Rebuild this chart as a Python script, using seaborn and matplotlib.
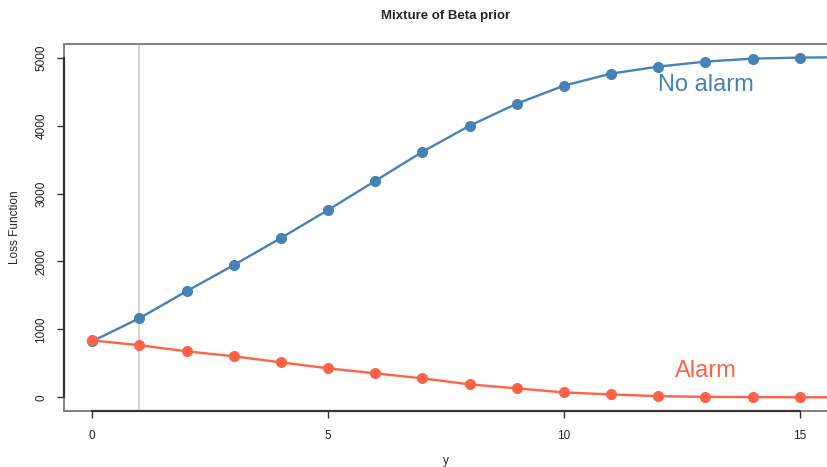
import numpy as np
import pandas as pd
import matplotlib
matplotlib.use("Agg")
import matplotlib.pyplot as plt
import matplotlib.transforms as mtransforms
import seaborn as sns

# Expected loss for each decision as a function of observed count y
y_vals = list(range(0, 17))
loss_no_alarm = [826, 1165, 1563, 1947, 2345, 2758, 3186, 3614, 3997, 4322,
                 4587, 4764, 4867, 4941, 4985, 5000, 5005]
loss_alarm = [840, 767, 678, 605, 516, 428, 354, 280, 192, 133,
              74, 44, 18, 8, 4, 2, 1]
threshold_y = 1

x_ticks = [0, 5, 10, 15]
y_ticks = [0, 1000, 2000, 3000, 4000, 5000]

blue = "#4682B4"
red = "#FF6347"

df = pd.DataFrame({
    "y": y_vals * 2,
    "loss": loss_no_alarm + loss_alarm,
    "decision": ["No alarm"] * len(y_vals) + ["Alarm"] * len(y_vals),
})

sns.set_style("white")
plt.rcParams["font.family"] = ["Liberation Sans", "DejaVu Sans"]

fig = plt.figure(figsize=(8.27, 4.67), dpi=100)
W, H = 827, 467
left_px, right_px, top_px, bottom_px = 64, 828, 44, 411
ax = fig.add_axes([left_px / W, 1 - bottom_px / H,
                   (right_px - left_px) / W, (bottom_px - top_px) / H])

ax.axvline(threshold_y, color="#cccccc", lw=1.2, zorder=1)

sns.lineplot(data=df, x="y", y="loss", hue="decision",
             palette={"No alarm": blue, "Alarm": red},
             hue_order=["No alarm", "Alarm"],
             marker="o", markersize=8, markeredgewidth=0,
             linewidth=1.7, legend=False, ax=ax, zorder=3)

ax.set_xlim(-0.6, 15.6)
ax.set_ylim(-200, 5200)
ax.set_xticks(x_ticks)
ax.set_yticks(y_ticks)
ax.set_xticklabels([str(t) for t in x_ticks], fontsize=8.5, color="#222222")
ax.set_yticklabels([str(t) for t in y_ticks], fontsize=8.5, color="#222222",
                   rotation=90, va="center")
ax.tick_params(axis="both", direction="out", length=5, width=1,
               color="#333333", bottom=True, left=True)
ax.tick_params(axis="x", pad=9)
ax.tick_params(axis="y", pad=7)

for side, sp in ax.spines.items():
    sp.set_color("#777777")
    sp.set_linewidth(1.3)
    sp.set_visible(True)

# darker axis lines spanning the tick range
tx = mtransforms.blended_transform_factory(ax.transData, ax.transAxes)
ty = mtransforms.blended_transform_factory(ax.transAxes, ax.transData)
ax.plot([x_ticks[0], x_ticks[-1]], [0, 0], transform=tx, color="#333333",
        lw=1.6, clip_on=False, zorder=5)
ax.plot([0, 0], [y_ticks[0], y_ticks[-1]], transform=ty, color="#333333",
        lw=1.6, clip_on=False, zorder=5)

ax.set_xlabel("y", fontsize=8.5, labelpad=9)
ax.set_ylabel("Loss Function", fontsize=8.5, labelpad=10)
ax.set_title("Mixture of Beta prior", fontsize=9.5, fontweight="bold", pad=18)

ax.text(13, 4590, "No alarm", color=blue, fontsize=17, ha="center", va="center")
ax.text(13, 390, "Alarm", color=red, fontsize=17, ha="center", va="center")

fig.savefig("out.png", dpi=100)
